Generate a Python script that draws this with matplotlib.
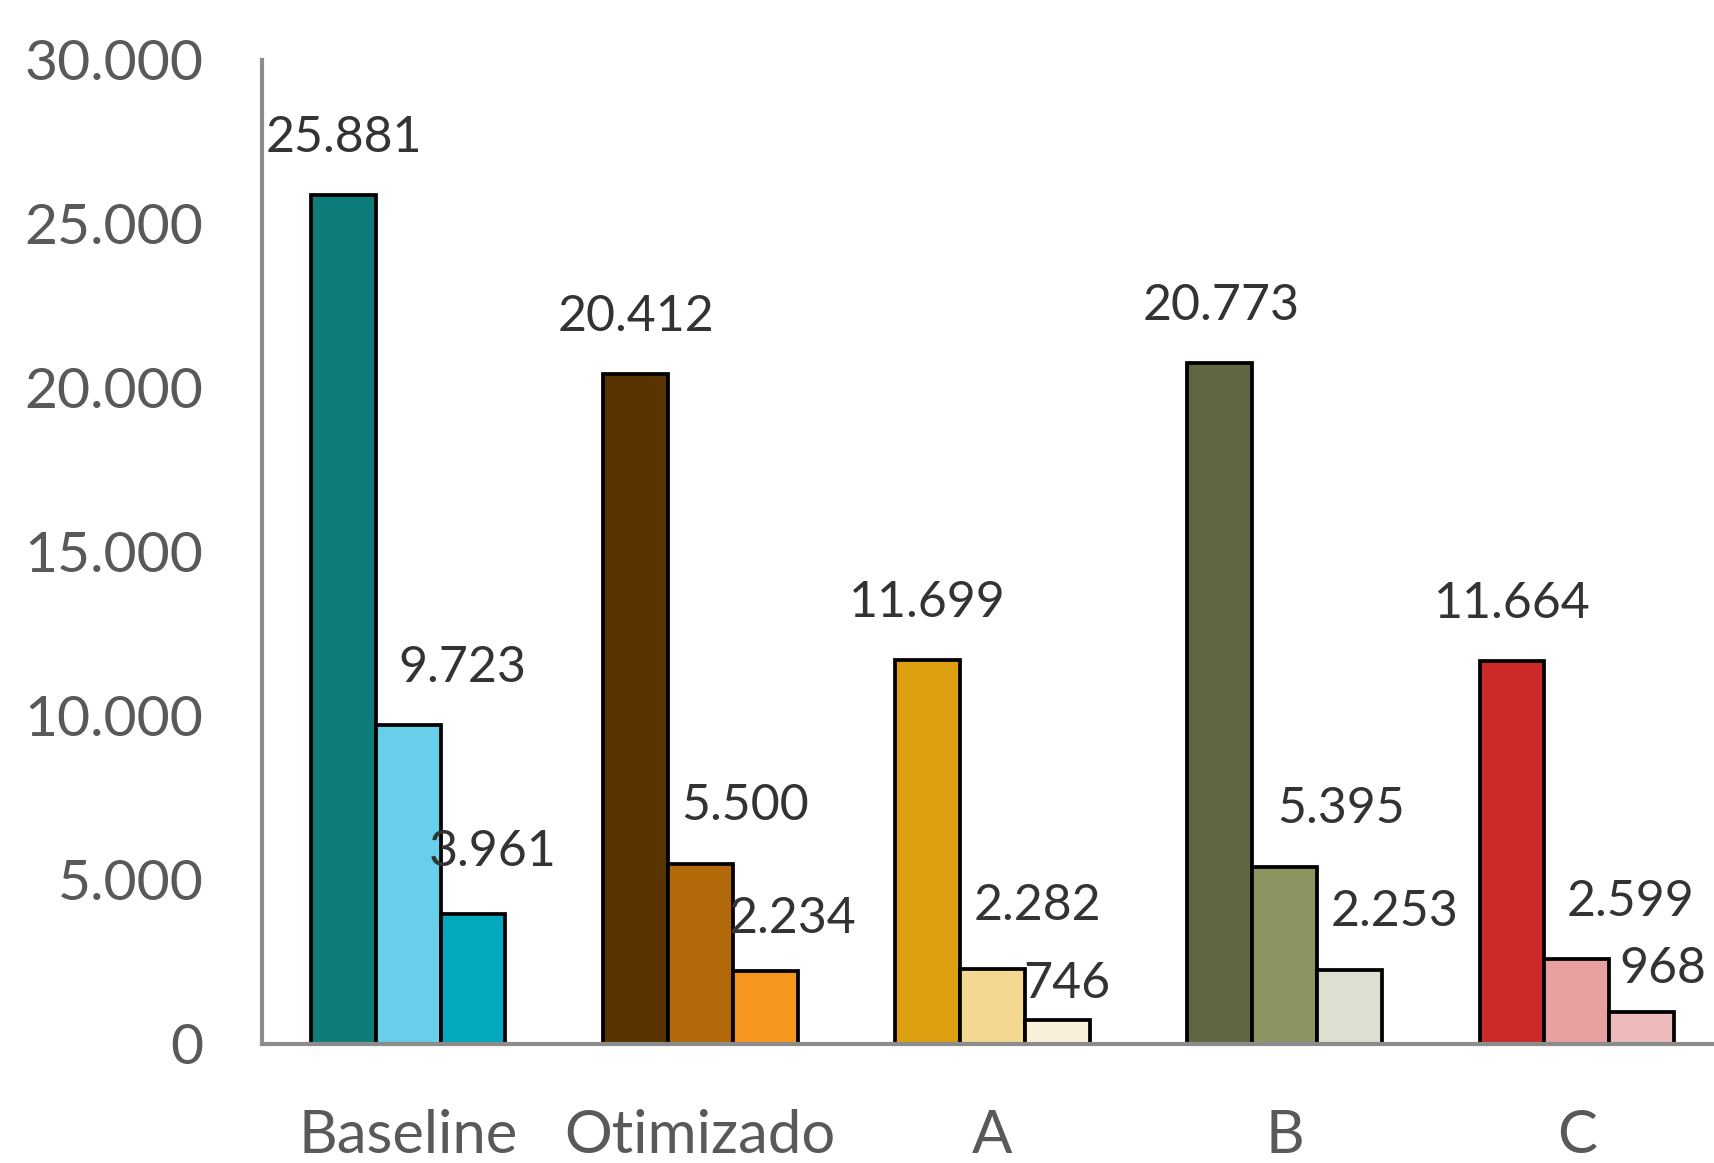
import matplotlib
matplotlib.use("Agg")
import matplotlib.pyplot as plt
import numpy as np

# Values per category, one list per series
categories = ["Baseline", "Otimizado", "A", "B", "C"]
serie_1 = [25881, 20412, 11699, 20773, 11664]
serie_2 = [9723, 5500, 2282, 5395, 2599]
serie_3 = [3961, 2234, 746, 2253, 968]
y_ticks = [0, 5000, 10000, 15000, 20000, 25000, 30000]

# Fill colours: one row per category, one entry per series
bar_colors = [
    ["#0E7C7B", "#67CFEA", "#03A9BE"],
    ["#5A3400", "#B3690A", "#F7961E"],
    ["#DDA010", "#F4D892", "#F8F0D9"],
    ["#5F6641", "#8C9561", "#DDE0D1"],
    ["#CB2A29", "#E9A0A0", "#EDBBBB"],
]

# Data label nudges in pixels (dx, height of label centre above bar top)
label_nudge = [
    [(1, 57), (54, 57), (20, 62)],
    [(1, 57), (45, 58), (27, 52)],
    [(0, 57), (45, 63), (9, 36)],
    [(1, 57), (56, 58), (45, 58)],
    [(0, 57), (54, 57), (21, 43)],
]

DPI = 100
W, H = 1714, 1163
FONT = ["Lato", "DejaVu Sans"]
plt.rcParams["font.family"] = FONT


def fmt(v):
    return f"{v:,}".replace(",", ".")


fig = plt.figure(figsize=(W / DPI, H / DPI), dpi=DPI)
ax = fig.add_axes([262 / W, 119 / H, (1723 - 262) / W, (1103 - 119) / H])

series = [serie_1, serie_2, serie_3]
x = np.arange(len(categories))
width = 0.222
px2pt = 72 / DPI

for s, vals in enumerate(series):
    xs = x + (s - 1) * width
    cols = [bar_colors[g][s] for g in range(len(categories))]
    ax.bar(xs, vals, width=width, color=cols, edgecolor="black",
           linewidth=2.7, zorder=2)
    for g, (bx, v) in enumerate(zip(xs, vals)):
        dx, dy = label_nudge[g][s]
        ax.annotate(fmt(v), (bx, v), xytext=(dx * px2pt, dy * px2pt),
                    textcoords="offset points", ha="center", va="center",
                    fontsize=36, color="#333333", zorder=3,
                    annotation_clip=False)

ax.set_xlim(-0.5, len(categories) - 0.5)
ax.set_ylim(0, 30000)
ax.set_yticks(y_ticks)
ax.set_yticklabels([fmt(t) for t in y_ticks])
ax.set_xticks(x)
ax.set_xticklabels(categories)
ax.tick_params(axis="y", length=0, pad=42, labelsize=41, labelcolor="#595959")
ax.tick_params(axis="x", length=0, pad=47, labelsize=43, labelcolor="#595959")

for side in ("top", "right"):
    ax.spines[side].set_visible(False)
for side in ("left", "bottom"):
    ax.spines[side].set_color("#8C8C8C")
    ax.spines[side].set_linewidth(3)
    ax.spines[side].set_zorder(4)

fig.savefig("out.png", dpi=DPI)
